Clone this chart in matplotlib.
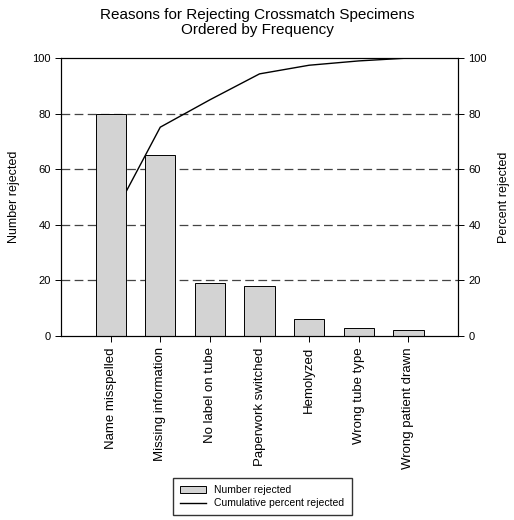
import numpy as np
import matplotlib
matplotlib.use('Agg')
import matplotlib.pyplot as plt

reasons = ['Name misspelled', 'Missing information', 'No label on tube',
           'Paperwork switched', 'Hemolyzed', 'Wrong tube type',
           'Wrong patient drawn']
counts = [80, 65, 19, 18, 6, 3, 2]
yticks = [0, 20, 40, 60, 80, 100]

cum_pct = np.cumsum(counts) / np.sum(counts) * 100

plt.rcParams['font.family'] = ['Liberation Sans', 'DejaVu Sans']

fig = plt.figure(figsize=(5.14, 5.2), dpi=100)
ax = fig.add_axes([0.1187, 0.3538, 0.7724, 0.5346])
x = np.arange(len(reasons))

# grid lines at 20..80
for v in yticks[1:-1]:
    ax.axhline(v, color='#444444', lw=0.9, dashes=(7, 3.5), zorder=0)

line, = ax.plot(x, cum_pct, color='black', lw=1.0, zorder=1,
                label='Cumulative percent rejected')
bars = ax.bar(x, counts, width=0.61, color='#d3d3d3', edgecolor='black',
              lw=0.7, zorder=2, label='Number rejected')

ax.set_xlim(-1, 7)
ax.set_ylim(0, 100)
ax.set_yticks(yticks)
ax.set_xticks(x)
ax.set_xticklabels(reasons, rotation=90, fontsize=9.5)
ax.tick_params(axis='y', labelsize=8, direction='out', length=4, width=0.7)
ax.tick_params(axis='x', direction='out', length=4, width=0.7, pad=4)
ax.set_ylabel('Number rejected', fontsize=9, labelpad=9)
for s in ax.spines.values():
    s.set_linewidth(0.8)

ax2 = ax.twinx()
ax2.set_ylim(0, 100)
ax2.set_yticks(yticks)
ax2.tick_params(axis='y', labelsize=8, direction='out', length=4, width=0.7)
ax2.set_ylabel('Percent rejected', fontsize=9, labelpad=8)
for s in ax2.spines.values():
    s.set_linewidth(0.8)

fig.suptitle('Reasons for Rejecting Crossmatch Specimens\nOrdered by Frequency',
             fontsize=11, y=0.985, linespacing=1.15)

fig.legend([bars, line], ['Number rejected', 'Cumulative percent rejected'],
           loc='center', bbox_to_anchor=(0.51, 0.045), fontsize=7.5,
           frameon=True, fancybox=False, edgecolor='black', handlelength=2.5,
           borderpad=0.7, labelspacing=0.3)

plt.savefig('out.png', dpi=100)
